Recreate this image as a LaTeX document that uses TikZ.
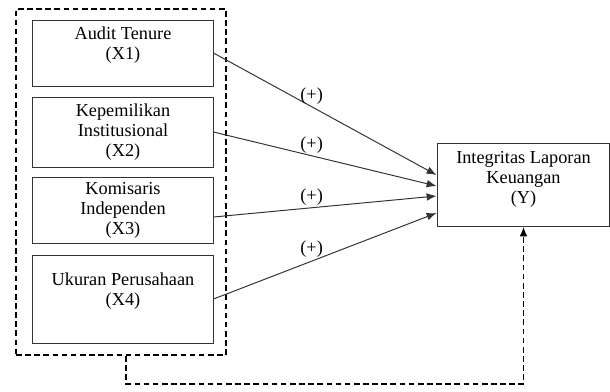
\documentclass[tikz,border=0pt]{standalone}
\usepackage{fontspec}
\setmainfont{Liberation Serif}
\usetikzlibrary{calc,arrows.meta}
\tikzset{
  var/.style={draw=black!80, line width=0.7pt, align=center, minimum width=4.5cm, inner sep=0pt, font=\fontsize{13}{14.2}\selectfont},
  grp/.style={draw, line width=1.4pt, dash pattern=on 4pt off 2.5pt, minimum width=5.25cm, minimum height=8.65cm},
  path/.style={draw=black!80, line width=0.7pt, -{Latex[length=7pt,width=5.5pt]}},
  sign/.style={font=\fontsize{13}{14.2}\selectfont, inner sep=1pt}
}
\begin{document}
\begin{tikzpicture}[x=0.025cm, y=-0.025cm]
          \useasboundingbox (0,0) rectangle (610,391);
          \node[grp] (G) at (121,182) {};
          \node[var, minimum height=1.65cm] (X1) at (123,53) {Audit Tenure\\(X1)\\~};
          \node[var, minimum height=1.75cm] (X2) at (123,132) {Kepemilikan\\Institusional\\(X2)};
          \node[var, minimum height=1.65cm] (X3) at (123,210) {Komisaris\\Independen\\(X3)};
          \node[var, minimum height=2.2cm] (X4) at (123,299) {Ukuran Perusahaan\\(X4)\\~};
          \node[var, minimum width=4.275cm, minimum height=2.075cm] (Y) at (523.5,184.5) {Integritas Laporan\\Keuangan\\(Y)\\[-4pt]~};

          \draw[path] (X1.east) -- node[sign, pos=0.44, above]{(+)} ($(Y.west)+(-1,-9.5)$);
          \draw[path] (X2.east) -- node[sign, pos=0.44, above]{(+)} ($(Y.west)+(-1,1.5)$);
          \draw[path] ($(X3.east)+(0,7)$) -- node[sign, pos=0.44, above]{(+)} ($(Y.west)+(-1,11.5)$);
          \draw[path] (X4.east) -- node[sign, pos=0.44, above=1pt]{(+)} ($(Y.west)+(-1,28.5)$);

          \draw[line width=1.4pt, dash pattern=on 4pt off 2.5pt, -{Latex[length=7pt,width=5.5pt]}] ($(G.south)+(5,0)$) -- ++(0,28) -| (Y.south);
\end{tikzpicture}
\end{document}
